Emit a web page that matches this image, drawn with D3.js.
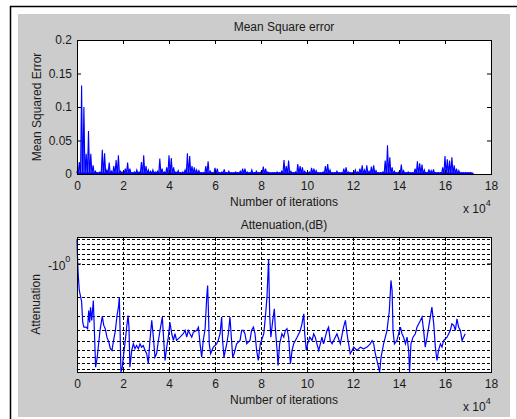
<!DOCTYPE html>
<html><head><meta charset="utf-8">
<script src="https://cdn.jsdelivr.net/npm/d3@7"></script>
<style>
body{margin:0;background:#fff}
svg{display:block}
text{font-family:"Liberation Sans",Arial,Helvetica,sans-serif;font-size:12px;fill:#1a1a1a}
</style>
</head><body>
<svg id="c" width="517" height="419"></svg>
<script>
// ---- data (iterations in units of 10^4) ----
const xTicks = [0,2,4,6,8,10,12,14,16,18];
const xTickLabels = ["0","2","4","6","8","10","12","14","16","18"];
const mseTicks = [0,0.05,0.1,0.15,0.2];
const mseTickLabels = ["0","0.05","0.1","0.15","0.2"];
const mseStep = 0.1; // sampling step of the MSE envelope (x10^4 iterations)
const mseValues = [
0.004,0.018,0.132,0.100,0.030,0.064,0.030,0.013,0.004,0.002,
0.003,0.036,0.031,0.006,0.017,0.004,0.012,0.021,0.028,0.004,
0.003,0.008,0.017,0.008,0.002,0.003,0.006,0.003,0.018,0.028,
0.012,0.006,0.004,0.006,0.003,0.004,0.023,0.008,0.003,0.010,
0.028,0.024,0.010,0.003,0.005,0.002,0.003,0.006,0.031,0.027,
0.012,0.010,0.006,0.005,0.002,0.002,0.012,0.019,0.004,0.002,
0.009,0.008,0.002,0.003,0.007,0.002,0.004,0.002,0.002,0.003,
0.002,0.004,0.008,0.008,0.003,0.002,0.006,0.002,0.004,0.002,
0.003,0.011,0.008,0.003,0.002,0.002,0.002,0.003,0.002,0.004,
0.021,0.012,0.020,0.004,0.002,0.003,0.015,0.012,0.010,0.004,
0.002,0.003,0.009,0.008,0.005,0.002,0.002,0.003,0.012,0.015,
0.006,0.002,0.002,0.004,0.002,0.002,0.008,0.010,0.003,0.002,
0.002,0.006,0.003,0.008,0.013,0.006,0.013,0.004,0.011,0.013,
0.005,0.002,0.002,0.003,0.020,0.043,0.025,0.010,0.004,0.002,
0.003,0.014,0.005,0.002,0.003,0.002,0.002,0.008,0.019,0.016,
0.014,0.006,0.002,0.007,0.005,0.007,0.002,0.002,0.002,0.010,
0.027,0.022,0.020,0.025,0.013,0.008,0.005,0.002,0.002,0.002,
0.002,0.002,0.001];

const attIter = [
0.00,0.03,0.06,0.10,0.16,0.20,0.25,0.30,0.39,0.46,0.51,0.55,0.59,0.64,0.71,0.75,0.81,0.88,0.94,
1.00,1.10,1.16,1.23,1.30,1.38,1.45,1.52,1.59,1.67,1.74,1.81,1.84,1.87,1.91,1.97,
2.03,2.10,2.16,2.22,2.26,2.30,2.38,2.45,2.52,2.59,2.67,2.74,2.81,2.88,2.96,
3.03,3.10,3.17,3.25,3.32,3.39,3.46,3.54,3.61,3.71,3.77,3.83,3.90,3.97,
4.04,4.12,4.19,4.26,4.33,4.48,4.62,4.70,4.77,4.84,4.91,4.99,
5.06,5.20,5.28,5.35,5.42,5.49,5.57,5.64,5.68,5.71,5.75,5.81,5.93,
6.07,6.14,6.22,6.29,6.33,6.39,6.51,6.58,6.65,6.70,6.77,6.83,6.94,
7.09,7.16,7.23,7.30,7.38,7.52,7.59,7.67,7.74,7.81,7.88,7.97,
8.12,8.19,8.26,8.33,8.38,8.43,8.51,8.58,8.62,8.70,8.74,8.81,8.91,8.99,
9.06,9.13,9.20,9.28,9.35,9.42,9.57,9.71,9.78,9.86,9.90,9.97,
10.03,10.12,10.22,10.29,10.36,10.43,10.51,10.58,10.65,10.72,10.87,10.94,
11.01,11.09,11.16,11.30,11.45,11.59,11.67,11.74,11.81,11.88,11.96,
12.03,12.17,12.32,12.46,12.61,12.75,12.83,12.90,12.97,
13.04,13.16,13.22,13.33,13.48,13.58,13.65,13.70,13.74,13.80,13.91,
14.06,14.13,14.20,14.28,14.35,14.42,14.46,14.52,14.61,14.71,14.78,14.93,
15.00,15.07,15.14,15.22,15.29,15.36,15.43,15.51,15.58,15.65,15.72,15.80,15.87,15.94,
16.09,16.16,16.23,16.30,16.38,16.45,16.52,16.59,16.67,16.74,16.81,16.88];
const attDb = [
-0.5,-1.0,-1.32,-1.74,-2.0,-2.2,-3.4,-3.75,-3.75,-3.88,-2.65,-3.4,-2.47,-3.26,-2.15,-3.75,-8.67,-7.03,-5.32,
-4.02,-3.0,-3.6,-3.88,-4.63,-5.1,-5.9,-6.11,-4.96,-4.02,-2.94,-2.4,-2.0,-3.75,-9.6,-8.67,
-6.55,-4.96,-3.75,-2.94,-3.75,-8.67,-6.11,-5.32,-5.9,-5.51,-5.9,-5.32,-5.7,-5.51,-6.11,
-6.55,-8.08,-4.96,-3.26,-4.63,-7.03,-6.55,-4.96,-4.02,-3.04,-4.96,-7.54,-5.7,-4.63,
-3.4,-4.31,-4.96,-4.31,-4.96,-4.63,-4.31,-4.02,-4.63,-4.02,-4.31,-4.63,
-4.17,-4.02,-3.75,-5.32,-7.03,-4.96,-3.88,-2.0,-1.57,-2.47,-5.32,-6.55,-5.7,
-5.32,-4.96,-4.31,-3.04,-4.96,-7.03,-5.32,-4.31,-3.04,-4.31,-7.03,-6.55,-5.32,
-4.96,-4.02,-4.02,-4.31,-5.32,-4.96,-4.02,-3.75,-4.31,-6.11,-7.54,-5.32,
-4.31,-3.04,-2.0,-0.9,-3.04,-4.63,-3.26,-2.56,-3.75,-6.11,-8.37,-5.32,-4.31,-4.63,
-4.02,-3.88,-4.63,-8.08,-6.11,-5.32,-4.63,-4.02,-3.5,-2.84,-4.31,-6.11,
-5.32,-4.63,-4.96,-4.31,-4.63,-5.32,-6.11,-5.32,-4.63,-5.32,-4.02,-3.75,
-4.96,-5.32,-4.96,-4.31,-5.32,-3.75,-3.26,-4.31,-5.32,-6.55,-6.11,
-5.7,-6.11,-5.7,-5.9,-5.7,-5.32,-4.96,-5.32,-6.55,
-7.54,-9.6,-7.03,-5.32,-4.02,-2.65,-1.41,-1.74,-4.02,-5.32,-4.96,
-3.75,-4.31,-4.63,-5.32,-4.63,-6.11,-9.6,-5.32,-4.63,-4.31,-3.75,-3.26,
-3.04,-4.02,-5.7,-4.63,-3.75,-3.04,-2.47,-3.5,-5.7,-7.54,-6.11,-5.32,-5.7,-4.96,
-4.63,-4.31,-4.02,-3.5,-3.62,-4.02,-3.15,-3.75,-4.02,-4.96,-4.63,-4.31];
const attGrid = [-0.5,-0.6,-0.7,-0.8,-0.9,-1,-2,-3,-4,-5,-6,-7,-8,-9];
const attMajor = [-1];

const svg = d3.select("#c");

// frame
svg.append("rect").attr("x",18).attr("y",14).attr("width",492).attr("height",403).attr("fill","#cccccc");
svg.append("path").attr("d","M10.5,419 V6.5 H517").attr("fill","none").attr("stroke","#000").attr("stroke-width",1.5);
svg.append("line").attr("x1",516.5).attr("x2",516.5).attr("y1",8).attr("y2",419).attr("stroke","#d4d4d4");

const L = 77, R = 491;
const x = d3.scaleLinear().domain([0,18]).range([L,R]);

function styleAxis(g){
  g.select(".domain").remove();
  g.selectAll(".tick line").attr("stroke","#000");
  g.selectAll(".tick text").attr("fill","#1a1a1a").style("font-size","12px")
   .style("font-family",'"Liberation Sans",Arial,sans-serif');
}

// ===== Top panel: MSE =====
const T1 = 40, B1 = 174;
const y1 = d3.scaleLinear().domain([0,0.2]).range([B1,T1]);
svg.append("rect").attr("x",L).attr("y",T1).attr("width",R-L).attr("height",B1-T1).attr("fill","#fff");

// each sample drawn as a narrow spike rising from the zero line (dense oscillating MSE trace)
const msePts = [];
mseValues.forEach((v,i)=>{
  const it = i*mseStep;
  msePts.push([it - mseStep*0.45, 0.001]);
  msePts.push([it, v]);
  msePts.push([it + mseStep*0.45, 0.001]);
});
svg.append("path").datum(msePts)
  .attr("d", d3.line().x(d=>x(Math.max(0,d[0]))).y(d=>y1(d[1])))
  .attr("fill","#0000ff").attr("fill-opacity",0.55).attr("stroke","#0000ff").attr("stroke-width",1.1);
svg.append("line").attr("x1",x(0)).attr("x2",x((mseValues.length-1)*mseStep))
  .attr("y1",y1(0)-0.5).attr("y2",y1(0)-0.5).attr("stroke","#0000ff").attr("stroke-width",2);

svg.append("g").attr("transform",`translate(0,${B1})`)
  .call(d3.axisBottom(x).tickValues(xTicks).tickSize(-4).tickPadding(7).tickFormat((d,i)=>xTickLabels[i])).call(styleAxis);
svg.append("g").attr("transform",`translate(0,${T1})`)
  .call(d3.axisTop(x).tickValues(xTicks).tickSize(-4).tickFormat("")).call(styleAxis);
svg.append("g").attr("transform",`translate(${L},0)`)
  .call(d3.axisLeft(y1).tickValues(mseTicks).tickSize(-4).tickPadding(5).tickFormat((d,i)=>mseTickLabels[i])).call(styleAxis);
svg.append("g").attr("transform",`translate(${R},0)`)
  .call(d3.axisRight(y1).tickValues(mseTicks).tickSize(-4).tickFormat("")).call(styleAxis);
svg.append("rect").attr("x",L+0.5).attr("y",T1+0.5).attr("width",R-L).attr("height",B1-T1)
  .attr("fill","none").attr("stroke","#000");

svg.append("text").attr("x",(L+R)/2).attr("y",31).attr("text-anchor","middle").text("Mean Square error");
svg.append("text").attr("x",(L+R)/2).attr("y",206).attr("text-anchor","middle").text("Number of iterations");
svg.append("text").attr("transform",`translate(41,${(T1+B1)/2}) rotate(-90)`).attr("text-anchor","middle").text("Mean Squared Error");
const e1 = svg.append("text").attr("x",463).attr("y",213);
e1.append("tspan").text("x 10");
e1.append("tspan").attr("dy",-7).style("font-size","9px").text("4");

// ===== Bottom panel: Attenuation =====
const T2 = 237, B2 = 372, M2 = 264;
const yLin = d3.scaleLinear().domain([0.455,1]).range([T2,M2]);
const yLog = d3.scaleLog().domain([1,9.6]).range([M2,B2]);
const y2 = db => { const m = -db; return m < 1 ? yLin(m) : yLog(m); };

svg.append("rect").attr("x",L).attr("y",T2).attr("width",R-L).attr("height",B2-T2).attr("fill","#fff");

const grid = svg.append("g").attr("stroke","#000").attr("stroke-width",1).attr("stroke-dasharray","3,2");
grid.selectAll("line.h").data(attGrid).join("line").attr("class","h")
  .attr("x1",L).attr("x2",R).attr("y1",d=>Math.round(y2(d))+0.5).attr("y2",d=>Math.round(y2(d))+0.5);
grid.selectAll("line.v").data(xTicks.slice(1,-1)).join("line").attr("class","v")
  .attr("y1",T2).attr("y2",B2).attr("x1",d=>Math.round(x(d))+0.5).attr("x2",d=>Math.round(x(d))+0.5);

svg.append("path").datum(attIter.map((it,i)=>({it, v:attDb[i]})))
  .attr("d", d3.line().x(d=>x(d.it)).y(d=>y2(d.v)))
  .attr("fill","none").attr("stroke","#0000ff").attr("stroke-width",1.2);

svg.append("g").attr("transform",`translate(0,${B2})`)
  .call(d3.axisBottom(x).tickValues(xTicks).tickSize(-4).tickPadding(7).tickFormat((d,i)=>xTickLabels[i])).call(styleAxis);
svg.append("g").attr("transform",`translate(0,${T2})`)
  .call(d3.axisTop(x).tickValues(xTicks).tickSize(-4).tickFormat("")).call(styleAxis);
svg.append("g").selectAll("line").data(attMajor).join("line")
  .attr("x1",L).attr("x2",L+4).attr("y1",d=>y2(d)).attr("y2",d=>y2(d)).attr("stroke","#000");
svg.append("g").selectAll("line").data(attMajor).join("line")
  .attr("x1",R-4).attr("x2",R).attr("y1",d=>y2(d)).attr("y2",d=>y2(d)).attr("stroke","#000");
svg.append("rect").attr("x",L+0.5).attr("y",T2+0.5).attr("width",R-L).attr("height",B2-T2)
  .attr("fill","none").attr("stroke","#000");

attMajor.forEach(d=>{
  const t = svg.append("text").attr("x",48).attr("y",y2(d)+6).attr("text-anchor","start");
  t.append("tspan").text("-10");
  t.append("tspan").attr("dy",-8).style("font-size","9px").text("0");
});

svg.append("text").attr("x",(L+R)/2).attr("y",229).attr("text-anchor","middle").text("Attenuation,(dB)");
svg.append("text").attr("x",(L+R)/2).attr("y",404).attr("text-anchor","middle").text("Number of iterations");
svg.append("text").attr("transform",`translate(40,${(T2+B2)/2}) rotate(-90)`).attr("text-anchor","middle").text("Attenuation");
const e2 = svg.append("text").attr("x",463).attr("y",411);
e2.append("tspan").text("x 10");
e2.append("tspan").attr("dy",-7).style("font-size","9px").text("4");
</script>
</body></html>
